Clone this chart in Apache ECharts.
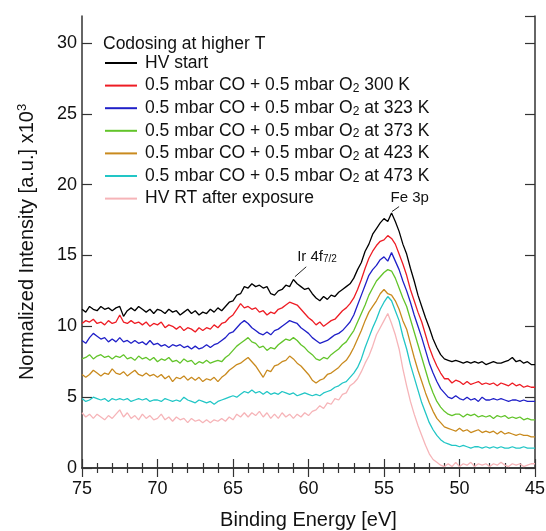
<!DOCTYPE html>
<html lang="en">
<head>
    <meta charset="UTF-8">
    <title>Codosing at higher T</title>
    <script src="https://cdn.jsdelivr.net/npm/echarts@6/dist/echarts.min.js"></script>
    <style>
        body { margin: 0; background: #fff; }
    </style>
</head>
<body>
<div id="main" style="width: 546px;height:531px;"></div>
<script type="text/javascript">
    // binding energy grid [eV], 0.25 eV steps
    var energy = [75, 74.75, 74.5, 74.25, 74, 73.75, 73.5, 73.25, 73, 72.75, 72.5, 72.25,
        72, 71.75, 71.5, 71.25, 71, 70.75, 70.5, 70.25, 70, 69.75, 69.5, 69.25,
        69, 68.75, 68.5, 68.25, 68, 67.75, 67.5, 67.25, 67, 66.75, 66.5, 66.25,
        66, 65.75, 65.5, 65.25, 65, 64.75, 64.5, 64.25, 64, 63.75, 63.5, 63.25,
        63, 62.75, 62.5, 62.25, 62, 61.75, 61.5, 61.25, 61, 60.75, 60.5, 60.25,
        60, 59.75, 59.5, 59.25, 59, 58.75, 58.5, 58.25, 58, 57.75, 57.5, 57.25,
        57, 56.75, 56.5, 56.25, 56, 55.75, 55.5, 55.25, 55, 54.75, 54.5, 54.25,
        54, 53.75, 53.5, 53.25, 53, 52.75, 52.5, 52.25, 52, 51.75, 51.5, 51.25,
        51, 50.75, 50.5, 50.25, 50, 49.75, 49.5, 49.25, 49, 48.75, 48.5, 48.25,
        48, 47.75, 47.5, 47.25, 47, 46.75, 46.5, 46.25, 46, 45.75, 45.5, 45.25, 45];

    // normalized intensity x10^3
    var hvStart = [11.2, 11.0, 11.4, 11.2, 11.1, 11.4, 11.2, 11.3, 11.1, 11.3, 11.4, 10.7,
        11.1, 11.3, 11.1, 11.4, 11.2, 11.0, 11.2, 10.9, 11.2, 11.1, 10.9, 11.2,
        11.0, 11.1, 10.8, 11.0, 11.2, 10.9, 11.1, 10.8, 11.0, 10.9, 11.2, 11.0,
        11.3, 11.1, 11.4, 11.7, 11.8, 12.2, 12.3, 12.8, 12.7, 13.0, 12.8, 12.9,
        12.7, 12.8, 12.3, 12.2, 12.5, 12.6, 12.9, 12.8, 13.3, 13.0, 12.8, 12.6,
        12.7, 12.3, 12.0, 11.8, 12.1, 11.9, 12.2, 12.1, 12.4, 12.6, 12.8, 13.0,
        13.4, 14.0, 14.5, 15.3, 15.8, 16.5, 16.9, 17.3, 17.6, 17.4, 18.0, 17.4,
        16.7, 15.8, 15.1, 14.1, 13.2, 12.2, 11.4, 10.6, 9.9, 9.1, 8.5, 8.0,
        7.7, 7.6, 7.5, 7.6, 7.5, 7.4, 7.5, 7.4, 7.5, 7.4, 7.5, 7.3,
        7.4, 7.5, 7.4, 7.4, 7.5, 7.6, 7.8, 7.5, 7.6, 7.4, 7.5, 7.3, 7.3];
    var co300 = [10.2, 10.4, 10.3, 10.5, 10.2, 10.3, 10.1, 10.4, 10.2, 10.3, 10.8, 10.3,
        10.2, 10.4, 10.2, 10.3, 10.1, 10.3, 10.0, 10.2, 10.1, 10.3, 9.9, 10.1,
        10.0, 9.8, 10.0, 9.7, 9.9, 9.8, 9.6, 9.9, 9.7, 9.9, 9.8, 10.1,
        9.9, 10.2, 10.3, 10.6, 10.8, 11.2, 11.6, 11.3, 11.4, 11.2, 11.3, 11.0,
        11.1, 10.8, 11.0, 10.9, 11.2, 11.3, 11.5, 11.7, 11.6, 11.5, 11.2, 10.9,
        10.6, 10.4, 10.1, 10.3, 10.0, 10.2, 10.4, 10.5, 10.8, 11.1, 11.3, 11.6,
        12.0, 12.6, 13.3, 14.1, 14.8, 15.3, 15.7, 16.0, 16.1, 16.4, 16.2, 15.8,
        15.1, 14.4, 13.6, 12.6, 11.8, 11.0, 10.3, 9.4, 8.5, 7.8, 7.2, 6.7,
        6.3, 6.3, 6.0, 6.2, 6.1, 5.9, 6.1, 5.9, 6.0, 6.1, 5.9, 6.0,
        5.9, 6.0, 5.8, 6.0, 5.9, 5.8, 6.0, 5.8, 5.9, 5.7, 5.8, 5.7, 5.7];
    var co323 = [9.0, 8.8, 9.2, 9.5, 9.3, 9.1, 9.2, 8.9, 9.1, 8.9, 9.2, 8.9,
        9.0, 8.8, 9.0, 8.8, 8.9, 8.7, 9.0, 8.7, 8.8, 8.6, 8.7, 8.5,
        8.7, 8.6, 8.7, 8.5, 8.6, 8.4, 8.6, 8.4, 8.5, 8.7, 8.5, 8.7,
        8.8, 9.0, 9.2, 9.5, 9.6, 9.9, 10.2, 10.4, 10.2, 9.9, 9.7, 9.5,
        9.4, 9.6, 9.4, 9.7, 9.8, 10.0, 10.2, 10.4, 10.3, 10.2, 9.9, 9.7,
        9.5, 9.2, 9.0, 8.8, 8.9, 9.0, 9.2, 9.4, 9.5, 9.7, 10.0, 10.3,
        10.8, 11.5, 12.2, 12.9, 13.6, 14.0, 14.3, 14.7, 14.9, 14.6, 15.2, 14.6,
        14.0, 13.2, 12.5, 11.7, 10.8, 10.0, 9.2, 8.3, 7.4, 6.7, 6.1, 5.6,
        5.3, 5.0, 4.9, 5.1, 4.9, 4.8, 5.0, 4.8, 4.9, 4.7, 5.0, 4.8,
        4.8, 4.9, 4.8, 4.9, 4.8, 4.7, 4.8, 4.8, 4.7, 4.8, 4.7, 4.7, 4.7];
    var co373 = [7.7, 7.8, 8.0, 7.7, 7.9, 8.0, 7.8, 7.9, 7.7, 7.9, 7.8, 8.0,
        7.7, 7.8, 7.6, 7.9, 7.7, 7.8, 7.6, 7.8, 7.5, 7.7, 7.6, 7.8,
        7.5, 7.6, 7.4, 7.7, 7.5, 7.6, 7.3, 7.5, 7.4, 7.6, 7.4, 7.5,
        7.6, 7.5, 7.8, 8.0, 8.3, 8.6, 8.8, 9.0, 9.2, 8.9, 8.8, 8.5,
        8.6, 8.3, 8.5, 8.4, 8.7, 8.9, 9.1, 9.0, 9.2, 9.0, 8.7, 8.5,
        8.2, 8.0, 7.7, 7.6, 7.8, 7.7, 8.0, 8.2, 8.4, 8.7, 8.9, 9.3,
        9.7, 10.3, 10.9, 11.5, 12.2, 12.7, 13.2, 13.5, 13.8, 14.0, 13.9, 13.4,
        12.7, 12.0, 11.4, 10.5, 9.6, 8.7, 7.8, 6.9, 6.0, 5.3, 4.7, 4.3,
        4.0, 3.8, 3.7, 3.8, 3.8, 3.6, 3.8, 3.7, 3.8, 3.6, 3.7, 3.6,
        3.7, 3.5, 3.7, 3.6, 3.7, 3.5, 3.6, 3.5, 3.6, 3.4, 3.5, 3.4, 3.4];
    var co423 = [6.6, 6.4, 6.6, 6.9, 6.7, 6.5, 6.7, 6.6, 7.0, 6.7, 6.6, 6.8,
        6.5, 6.7, 6.9, 6.6, 6.5, 6.7, 6.5, 6.6, 6.4, 6.6, 6.3, 6.5,
        6.1, 6.4, 6.3, 6.5, 6.2, 6.4, 6.2, 6.4, 6.1, 6.3, 6.2, 6.4,
        6.1, 6.4, 6.6, 6.9, 7.1, 7.3, 7.4, 7.6, 7.8, 7.5, 7.2, 6.8,
        6.4, 6.9, 6.8, 7.2, 7.3, 7.5, 7.6, 7.9, 7.7, 7.4, 7.2, 6.9,
        6.6, 6.2, 6.0, 6.2, 6.3, 6.6, 6.7, 6.9, 7.1, 7.4, 7.6, 8.0,
        8.5, 9.1, 9.7, 10.4, 11.0, 11.4, 11.8, 12.3, 12.6, 12.3, 12.2, 11.8,
        11.2, 10.4, 9.8, 8.8, 7.8, 6.9, 6.1, 5.3, 4.6, 4.0, 3.5, 3.2,
        2.9, 2.8, 2.7, 2.6, 2.8, 2.6, 2.7, 2.5, 2.6, 2.7, 2.5, 2.6,
        2.5, 2.6, 2.4, 2.6, 2.4, 2.5, 2.4, 2.3, 2.4, 2.3, 2.3, 2.2, 2.2];
    var co473 = [4.9, 4.7, 4.8, 5.0, 4.9, 4.8, 4.9, 4.7, 4.9, 4.8, 4.9, 4.8,
        4.9, 4.7, 4.8, 4.9, 4.8, 4.9, 4.7, 4.8, 4.8, 4.7, 4.9, 4.8,
        4.7, 4.8, 4.7, 5.0, 4.8, 4.7, 4.6, 4.8, 4.7, 4.6, 4.7, 4.5,
        4.7, 4.8, 4.9, 5.0, 5.1, 5.0, 5.2, 5.4, 5.3, 5.5, 5.3, 5.4,
        5.2, 5.4, 5.2, 5.3, 5.2, 5.4, 5.3, 5.2, 5.3, 5.1, 5.2, 5.3,
        5.2, 5.1, 5.2, 5.1, 5.3, 5.4, 5.5, 5.7, 5.8, 6.0, 6.1, 6.4,
        6.7, 7.1, 7.7, 8.5, 9.2, 9.9, 10.5, 11.2, 11.7, 12.1, 11.8, 11.1,
        10.4, 9.3, 8.4, 7.3, 6.4, 5.5, 4.6, 3.9, 3.2, 2.7, 2.3, 2.0,
        1.8, 1.7, 1.6, 1.6, 1.5, 1.6, 1.5, 1.4, 1.5, 1.5, 1.4, 1.5,
        1.4, 1.5, 1.4, 1.5, 1.4, 1.4, 1.5, 1.4, 1.4, 1.5, 1.4, 1.4, 1.4];
    var hvAfter = [3.9, 3.6, 3.8, 3.5, 3.8, 3.6, 3.4, 3.7, 3.5, 3.8, 4.1, 3.6,
        3.9, 3.5, 3.7, 3.4, 3.8, 3.5, 3.7, 3.4, 3.5, 3.8, 3.4, 3.6,
        3.3, 3.6, 3.4, 3.5, 3.2, 3.5, 3.3, 3.4, 3.2, 3.4, 3.2, 3.4,
        3.3, 3.5, 3.3, 3.6, 3.4, 3.8, 3.6, 3.9, 3.6, 3.9, 3.7, 4.0,
        3.6, 3.9, 3.5, 3.8, 3.5, 3.9, 3.6, 3.8, 3.5, 3.8, 3.6, 3.9,
        3.7, 4.0, 4.1, 4.4, 4.2, 4.6, 4.5, 4.9, 4.8, 5.2, 5.3, 5.8,
        6.0, 6.3, 6.8, 7.4, 7.9, 8.6, 9.4, 9.9, 10.4, 10.9, 10.2, 9.4,
        8.4, 7.0, 5.8, 4.7, 3.8, 3.0, 2.3, 1.6, 1.0, 0.6, 0.4, 0.2,
        0.1, 0.3, 0.1, 0.4, 0.1, 0.3, 0.2, 0.4, 0.1, 0.3, 0.2, 0.3,
        0.1, 0.3, 0.2, 0.4, 0.2, 0.1, 0.3, 0.2, 0.3, 0.1, 0.2, 0.3, 0.3];

    var seriesNames = ['HV start', 'CO+O2 300 K', 'CO+O2 323 K', 'CO+O2 373 K',
        'CO+O2 423 K', 'CO+O2 473 K', 'HV RT after exposure'];
    var legendLabels = ['HV start',
        '0.5 mbar CO + 0.5 mbar O{sub|2} 300 K',
        '0.5 mbar CO + 0.5 mbar O{sub|2} at 323 K',
        '0.5 mbar CO + 0.5 mbar O{sub|2} at 373 K',
        '0.5 mbar CO + 0.5 mbar O{sub|2} at 423 K',
        '0.5 mbar CO + 0.5 mbar O{sub|2} at 473 K',
        'HV RT after exposure'];
    var seriesValues = [hvStart, co300, co323, co373, co423, co473, hvAfter];
    var colors = ['#000000', '#ee1c24', '#2020c8', '#62c42a', '#c98a1e', '#22c6c6', '#f6b4b8'];

    var font = 'Liberation Sans, Arial, Helvetica, sans-serif';
    var axisColor = '#333';

    var myChart = echarts.init(document.getElementById('main'));

    var series = [];
    for (var s = seriesValues.length - 1; s >= 0; s--) {
        var pts = [];
        for (var i = 0; i < energy.length; i++) {
            pts.push([energy[i], seriesValues[s][i]]);
        }
        series.push({
            name: seriesNames[s],
            type: 'line',
            data: pts,
            showSymbol: false,
            smooth: false,
            color: colors[s],
            lineStyle: { width: 1.3, color: colors[s] },
            z: 10 - s
        });
    }

    var tickStyle = { color: axisColor, width: 1.2 };

    myChart.setOption({
        animation: false,
        title: {
            text: 'Codosing at higher T',
            left: 98,
            top: 30,
            textStyle: { fontFamily: font, fontSize: 17.5, fontWeight: 'normal', color: '#111' }
        },
        legend: {
            orient: 'vertical',
            left: 105,
            top: 54,
            padding: 0,
            itemWidth: 32,
            itemHeight: 2,
            itemGap: 4.6,
            icon: 'rect',
            data: seriesNames,
            formatter: function (name) {
                return legendLabels[seriesNames.indexOf(name)];
            },
            textStyle: {
                fontFamily: font, fontSize: 17.5, color: '#111', lineHeight: 18,
                padding: [0, 0, 0, 3],
                rich: {
                    sub: { fontFamily: font, fontSize: 12, color: '#111', lineHeight: 10, verticalAlign: 'bottom' }
                }
            }
        },
        grid: { left: 82, right: 11, top: 16, bottom: 63, outerBoundsMode: 'none' },
        xAxis: [{
            type: 'value',
            position: 'bottom',
            min: 45, max: 75, interval: 5,
            inverse: true,
            name: 'Binding Energy [eV]',
            nameLocation: 'middle',
            nameGap: 42,
            nameTextStyle: { fontFamily: font, fontSize: 20, color: '#111' },
            axisLine: { show: true, lineStyle: { color: axisColor, width: 1.5 } },
            axisTick: { show: true, inside: true, length: 9, lineStyle: tickStyle },
            minorTick: { show: true, splitNumber: 5, length: 5, lineStyle: tickStyle },
            axisLabel: { fontFamily: font, fontSize: 18, color: '#111', margin: 12 },
            splitLine: { show: false }
        }, {
            type: 'value',
            position: 'top',
            min: 45, max: 75, interval: 5,
            inverse: true,
            axisLine: { show: true, lineStyle: { color: axisColor, width: 1.5 } },
            axisTick: { show: true, inside: true, length: 9, lineStyle: tickStyle },
            minorTick: { show: true, splitNumber: 5, length: 5, lineStyle: tickStyle },
            axisLabel: { show: false },
            splitLine: { show: false }
        }],
        yAxis: [{
            type: 'value',
            position: 'left',
            min: 0, max: 31.9, interval: 5,
            name: 'Normalized Intensity [a.u.] x10{sup|3}',
            nameLocation: 'middle',
            nameGap: 44,
            nameTextStyle: {
                fontFamily: font, fontSize: 20, color: '#111', lineHeight: 22,
                rich: {
                    sup: { fontFamily: font, fontSize: 13, color: '#111', lineHeight: 8, verticalAlign: 'top' }
                }
            },
            axisLine: { show: true, lineStyle: { color: axisColor, width: 1.5 } },
            axisTick: { show: true, inside: true, length: 10, lineStyle: tickStyle },
            axisLabel: { fontFamily: font, fontSize: 18, color: '#111', margin: 5, showMaxLabel: false },
            splitLine: { show: false }
        }, {
            type: 'value',
            position: 'right',
            min: 0, max: 31.9, interval: 5,
            axisLine: { show: true, lineStyle: { color: axisColor, width: 1.5 } },
            axisTick: { show: true, inside: true, length: 10, lineStyle: tickStyle },
            axisLabel: { show: false },
            splitLine: { show: false }
        }],
        series: series
    });

    // peak annotations placed in data coordinates
    function px(pt) {
        return myChart.convertToPixel({ xAxisIndex: 0, yAxisIndex: 0 }, pt);
    }
    var fe0 = px([54.47, 18.1]), fe1 = px([54.0, 18.45]), feText = px([53.3, 19.05]);
    var ir0 = px([60.9, 13.5]), ir1 = px([60.15, 14.2]), irText = px([60.75, 14.9]);

    myChart.setOption({
        graphic: [
            { type: 'line', shape: { x1: fe0[0], y1: fe0[1], x2: fe1[0], y2: fe1[1] }, style: { stroke: '#222', lineWidth: 1 } },
            { type: 'text', x: feText[0], y: feText[1],
                style: { text: 'Fe 3p', font: '15px ' + font, fill: '#111', align: 'center', verticalAlign: 'middle' } },
            { type: 'line', shape: { x1: ir0[0], y1: ir0[1], x2: ir1[0], y2: ir1[1] }, style: { stroke: '#222', lineWidth: 1 } },
            { type: 'text', x: irText[0], y: irText[1],
                style: {
                    text: 'Ir 4f{sub|7/2}', font: '15px ' + font, fill: '#111', align: 'left', verticalAlign: 'middle',
                    rich: { sub: { fontSize: 10, fontFamily: font, fill: '#111', lineHeight: 8, verticalAlign: 'bottom' } }
                } }
        ]
    });
</script>
</body>
</html>
